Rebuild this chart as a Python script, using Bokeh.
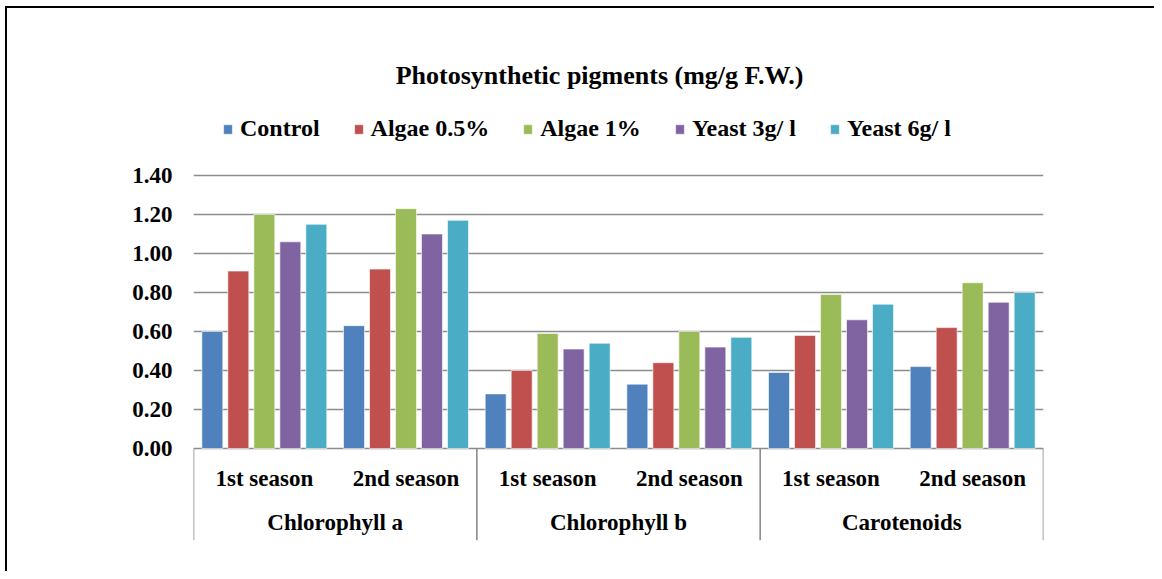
from bokeh.plotting import figure
from bokeh.models import (ColumnDataSource, FactorRange, Range1d, FixedTicker,
                          NumeralTickFormatter, Label)
from bokeh.transform import dodge
from bokeh.core.properties import value
from bokeh.embed import file_html
from bokeh.resources import INLINE

# ---- data ----
pigments = ["Chlorophyll a", "Chlorophyll b", "Carotenoids"]
seasons = ["1st season", "2nd season"]
treatments = ["Control", "Algae 0.5%", "Algae 1%", "Yeast 3g/ l", "Yeast 6g/ l"]
colors = ["#4F81BD", "#C0504D", "#9BBB59", "#8064A2", "#4BACC6"]

control = [0.60, 0.63, 0.28, 0.33, 0.39, 0.42]
algae_05 = [0.91, 0.92, 0.40, 0.44, 0.58, 0.62]
algae_1 = [1.20, 1.23, 0.59, 0.60, 0.79, 0.85]
yeast_3 = [1.06, 1.10, 0.51, 0.52, 0.66, 0.75]
yeast_6 = [1.15, 1.17, 0.54, 0.57, 0.74, 0.80]
series = [control, algae_05, algae_1, yeast_3, yeast_6]

y_ticks = [0.0, 0.2, 0.4, 0.6, 0.8, 1.0, 1.2, 1.4]
title_text = "Photosynthetic pigments (mg/g F.W.)"

FONT = "Liberation Serif"

factors = [(pg, s) for pg in pigments for s in seasons]
data = {"x": factors}
keys = ["s%d" % i for i in range(len(series))]
for k, vals in zip(keys, series):
    data[k] = vals
source = ColumnDataSource(data)

x_range = FactorRange(*factors, range_padding=0, group_padding=0,
                      factor_padding=0, subgroup_padding=0)
y_range = Range1d(-0.4718, 2.2974)

p = figure(width=1154, height=571, x_range=x_range, y_range=y_range,
           output_backend="svg", toolbar_location=None, x_axis_location=None,
           min_border_left=193, min_border_right=111, min_border_top=0,
           min_border_bottom=31)
# outer chart-area frame (only top and left edges visible in the source image)
p.styles = {
    "background": ("linear-gradient(#000,#000) 5px 6px / 2px 100% no-repeat, "
                   "linear-gradient(#000,#000) 5px 6px / 100% 2px no-repeat, white"),
}
p.outline_line_color = None
p.background_fill_alpha = 0
p.border_fill_alpha = 0

pitch = 0.1835
bw = 0.148
for i, (k, name, c) in enumerate(zip(keys, treatments, colors)):
    p.vbar(x=dodge("x", (i - 2) * pitch, range=p.x_range), top=k, width=bw,
           source=source, fill_color=c, line_color="white", line_width=0.6,
           legend_label=name)

# y axis
ax = p.yaxis[0]
ax.ticker = FixedTicker(ticks=y_ticks)
ax.formatter = NumeralTickFormatter(format="0.00")
ax.axis_line_color = None
ax.major_tick_line_color = None
ax.major_tick_out = 0
ax.major_tick_in = 0
ax.minor_tick_line_color = None
ax.major_label_standoff = 21
ax.major_label_text_font = FONT
ax.major_label_text_font_style = "bold"
ax.major_label_text_font_size = "23px"
ax.major_label_text_color = "black"

p.xgrid.visible = False
p.ygrid.grid_line_color = "#8C8C8C"
p.ygrid.grid_line_width = 1.6

# category labels (two-level axis)
lab_src = ColumnDataSource({"x": factors, "t": [f[1] for f in factors],
                            "y": [-0.154] * len(factors)})
p.text(x="x", y="y", text="t", source=lab_src, text_align="center",
       text_baseline="middle", text_font=value(FONT), text_font_style="bold",
       text_font_size="23px", text_color="black")
grp_src = ColumnDataSource({"x": pigments, "t": pigments,
                            "y": [-0.379] * len(pigments)})
p.text(x="x", y="y", text="t", source=grp_src, text_align="center",
       text_baseline="middle", text_font=value(FONT), text_font_style="bold",
       text_font_size="23px", text_color="black")

# separators
sep_src = ColumnDataSource({"x": [(pg, seasons[0]) for pg in pigments],
                            "y0": [0.0] * 3, "y1": [y_range.start] * 3})
p.segment(x0=dodge("x", -0.5, range=p.x_range), x1=dodge("x", -0.5, range=p.x_range),
          y0="y0", y1="y1", source=sep_src, line_color="#8C8C8C", line_width=1.6)
end_src = ColumnDataSource({"x": [(pigments[-1], seasons[-1])],
                            "y0": [0.0], "y1": [y_range.start]})
p.segment(x0=dodge("x", 0.5, range=p.x_range), x1=dodge("x", 0.5, range=p.x_range),
          y0="y0", y1="y1", source=end_src, line_color="#8C8C8C", line_width=1.6)

# title
p.add_layout(Label(x=2.866, y=1.913, text=title_text, text_align="center",
                   text_baseline="middle", text_font=FONT, text_font_style="bold",
                   text_font_size="26px", text_color="black"))

# legend
lg = p.legend[0]
lg.orientation = "horizontal"
lg.location = (29, 398)
lg.padding = 0
lg.margin = 0
lg.spacing = 33
lg.glyph_width = 11
lg.glyph_height = 12
lg.label_standoff = 7
lg.label_height = 24
lg.label_text_font = FONT
lg.label_text_font_style = "bold"
lg.label_text_font_size = "24px"
lg.label_text_color = "black"
lg.border_line_color = None
lg.background_fill_alpha = 0

open("out.html", "w").write(file_html(p, INLINE))
